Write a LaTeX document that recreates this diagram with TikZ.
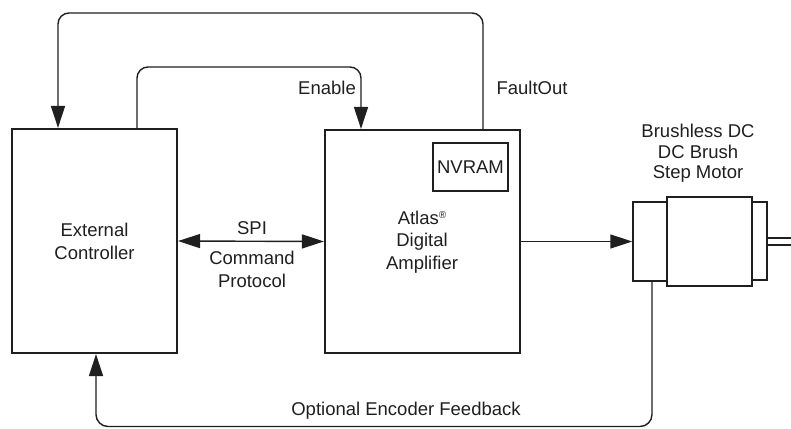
\documentclass[tikz,border=0pt]{standalone}
\usepackage{fontspec}
\setmainfont{Liberation Sans}
\usetikzlibrary{arrows.meta}
\tikzset{
  bigbox/.style={draw=black!88, line width=2.2pt, inner sep=0pt, align=center},
  thinbox/.style={draw=black!88, line width=1.4pt, inner sep=0pt},
  conn/.style={draw=black!88, line width=1.4pt},
  arr/.style={-{Triangle[length=22pt,width=14pt]}},
  darr/.style={{Triangle[length=22pt,width=14pt]}-{Triangle[length=22pt,width=14pt]}},
  txt/.style={inner sep=0pt, align=center, text=black!88, font=\fontsize{18.5}{23}\selectfont},
}
\begin{document}
\begin{tikzpicture}[x=1pt,y=-1pt]
\useasboundingbox (0,0) rectangle (791,428);
% main blocks
\node[bigbox, txt, minimum width=165pt, minimum height=224pt] (ext) at (94.5,241) {External\\Controller};
\node[bigbox, minimum width=195pt, minimum height=223pt] (amp) at (422.5,241.5) {};
\node[txt, font=\fontsize{18.5}{22.5}\selectfont] (amptxt) at (422,242) {Atlas\raisebox{6pt}{\fontsize{10}{10}\selectfont ®}\\Digital\\Amplifier};
\node[thinbox, minimum width=75pt, minimum height=48pt, txt] (nvram) at (470.5,167) {NVRAM};
% motor
\node[thinbox, minimum width=34pt, minimum height=79pt] (mleft) at (650,241.5) {};
\node[thinbox, minimum width=85pt, minimum height=89pt] (mmain) at (709.5,241.5) {};
\node[thinbox, minimum width=15pt, minimum height=78pt] (mcap) at (759.5,241) {};
\coordinate (sh1) at (791,238);
\coordinate (sh2) at (791,245);
\draw[conn] (mcap.east |- sh1) -- (sh1);
\draw[conn] (mcap.east |- sh2) -- (sh2);
\node[txt, font=\fontsize{18.5}{20.5}\selectfont] (mlabel) at (698,153.5) {Brushless DC\\DC Brush\\Step Motor};
% helper coordinates
\coordinate (fx) at (483,13);
\coordinate (fl) at (58,13);
\coordinate (ex) at (137,67);
\coordinate (er) at (361,67);
\coordinate (bx) at (652,426.5);
\coordinate (bl) at (96,426.5);
% FaultOut loop
\draw[conn, arr, rounded corners=11pt] (amp.north -| fx) -- (fx) -- (fl) -- (ext.north -| fl);
\node[txt] (fault) at (532,88) {FaultOut};
% Enable loop
\draw[conn, arr, rounded corners=11pt] (ext.north -| ex) -- (ex) -- (er) -- (amp.north -| er);
\node[txt, anchor=east] (enable) at (356,88) {Enable};
% SPI
\draw[conn, darr] (ext.east) -- (amp.west);
\node[txt] (spi) at (252,228) {SPI};
\node[txt] (cmd) at (252,269.5) {Command\\Protocol};
% amp to motor
\draw[conn, arr] (amp.east) -- (mleft.west);
% feedback
\draw[conn, arr, rounded corners=12pt] (mleft.south -| bx) -- (bx) -- (bl) -- (ext.south -| bl);
\node[txt] (fb) at (406,411) {Optional Encoder Feedback};
\end{tikzpicture}
\end{document}
